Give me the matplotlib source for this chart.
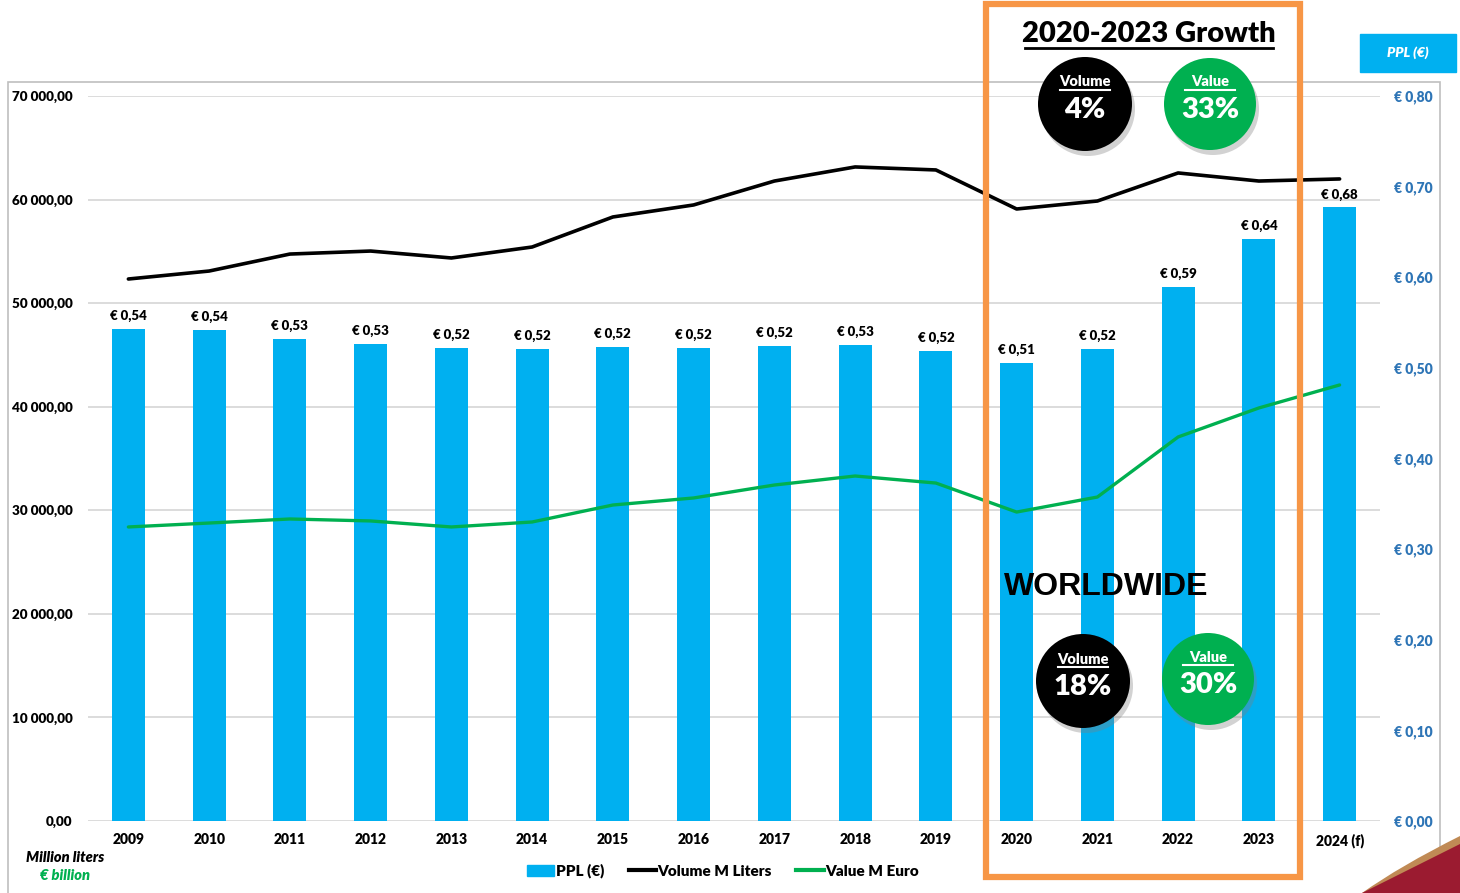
import numpy as np
import matplotlib
matplotlib.use('Agg')
import matplotlib.pyplot as plt
from matplotlib.patches import Rectangle, Circle, PathPatch
from matplotlib.path import Path
from matplotlib.lines import Line2D

years = ['2009', '2010', '2011', '2012', '2013', '2014', '2015', '2016',
         '2017', '2018', '2019', '2020', '2021', '2022', '2023', '2024 (f)']
ppl = [0.543, 0.542, 0.532, 0.526, 0.522, 0.521, 0.523, 0.522,
       0.524, 0.525, 0.519, 0.505, 0.521, 0.589, 0.642, 0.677]
volume = [52330, 53100, 54740, 55030, 54360, 55420, 58320, 59480,
          61790, 63150, 62860, 59090, 59860, 62570, 61790, 61990]
value = [28390, 28770, 29160, 28970, 28390, 28870, 30510, 31190,
         32440, 33310, 32630, 29830, 31280, 37080, 39880, 42100]
growth_2020_2023 = ['4%', '33%']
growth_world = ['18%', '30%']

W, H = 1460, 893
BW = 'heavy'
plt.rcParams['font.family'] = ['Lato', 'DejaVu Sans']
fig = plt.figure(figsize=(W / 100, H / 100), dpi=100)

def fx(x):
    return x / W

def fy(y):
    return 1 - y / H

# outer frame
fig.patches.append(Rectangle((fx(8), fy(950)), fx(1440) - fx(8), fy(82) - fy(950),
                             transform=fig.transFigure, fill=False, ec='#bfbfbf', lw=1.2))

ax = fig.add_axes([fx(88), fy(821), fx(1380) - fx(88), fy(96) - fy(821)])
ax2 = ax.twinx()
ax3 = ax.twinx()

x = np.arange(len(years))
ax.set_ylim(0, 70000)
ax.set_yticks(np.arange(0, 70001, 10000))
ax.set_yticklabels([f'{v:,.2f}'.replace(',', ' ').replace('.', ',') for v in np.arange(0, 70001, 10000)],
                   fontweight=BW, fontsize=9.7)
ax.grid(axis='y', color='#d9d9d9', lw=1.3)
ax.set_axisbelow(True)
ax.tick_params(axis='y', length=0, pad=11)
ax.set_xlim(-0.5, len(years) - 0.5)
ax.set_xticks(x)
ax.set_xticklabels(years, fontweight=BW, fontsize=10)
ax.tick_params(axis='x', length=0, pad=9)

bars = ax2.bar(x, ppl, width=0.41, color='#00b0f0', zorder=2)
ax2.set_ylim(0, 0.8)
ax2.set_yticks(np.arange(0, 0.81, 0.1))
ax2.set_yticklabels([f'€ {v:.2f}'.replace('.', ',') for v in np.arange(0, 0.81, 0.1)],
                    fontweight=BW, fontsize=10, color='#2e75b6')
ax2.tick_params(axis='y', length=0, pad=10)
for b, v in zip(bars, ppl):
    ax2.annotate(f'€ {v:.2f}'.replace('.', ','), (b.get_x() + b.get_width() / 2, v),
                 xytext=(0, 5), textcoords='offset points', ha='center', va='bottom',
                 fontsize=9.5, fontweight=BW)

ax3.plot(x, volume, color='black', lw=2.6, solid_capstyle='round')
ax3.plot(x, value, color='#00b050', lw=2.4, solid_capstyle='round')
ax3.set_ylim(0, 70000)
ax3.set_yticks([])

for a in (ax, ax2, ax3):
    for s in a.spines.values():
        s.set_visible(False)

# legend
handles = [Rectangle((0, 0), 1, 1, color='#00b0f0'),
           Line2D([], [], color='black', lw=3),
           Line2D([], [], color='#00b050', lw=3)]
fig.legend(handles, ['PPL (€)', 'Volume M Liters', 'Value M Euro'], loc='center',
           bbox_to_anchor=(fx(723), fy(871)), ncol=3, frameon=False,
           prop={'weight': BW, 'size': 11}, handlelength=1.8, handletextpad=0.1,
           columnspacing=1.6, handleheight=0.8)

fig.text(fx(65), fy(857), 'Million liters', ha='center', va='center',
         fontsize=10.5, fontweight=BW, style='italic')
fig.text(fx(65), fy(876), '€ billion', ha='center', va='center',
         fontsize=10.5, fontweight=BW, style='italic', color='#00b050')

# PPL box
fig.patches.append(Rectangle((fx(1360), fy(72)), fx(1456) - fx(1360), fy(34) - fy(72),
                             transform=fig.transFigure, color='#00b0f0'))
fig.text(fx(1408), fy(53), 'PPL (€)', ha='center', va='center', color='white',
         fontsize=10, fontweight=BW, style='italic')

# orange highlight
fig.patches.append(Rectangle((fx(986), fy(877)), fx(1300) - fx(986), fy(4) - fy(877),
                             transform=fig.transFigure, fill=False, ec='#f79646', lw=4.5))

fig.text(fx(1149), fy(34), '2020-2023 Growth', ha='center', va='center',
         fontsize=21, fontweight=BW)
fig.lines.append(Line2D([fx(1025), fx(1273)], [fy(48), fy(48)], transform=fig.transFigure,
                        color='black', lw=2))

fig.text(fx(1106), fy(587), 'WORLDWIDE', ha='center', va='center', fontsize=23,
         fontweight='bold', family=['Liberation Sans', 'DejaVu Sans'])

def bubble(cx, cy, r, color, label, pct):
    t = fig.dpi_scale_trans
    fig.patches.append(Circle(((cx + 3) / 100, (H - cy - 5) / 100), r / 100, transform=t,
                              color='#7f7f7f', alpha=0.35, lw=0))
    fig.patches.append(Circle((cx / 100, (H - cy) / 100), r / 100, transform=t,
                              color=color, lw=0))
    fig.text(fx(cx), fy(cy - 22), label, ha='center', va='center', color='white',
             fontsize=10.5, fontweight=BW)
    fig.lines.append(Line2D([fx(cx - 25), fx(cx + 25)], [fy(cy - 14), fy(cy - 14)],
                            transform=fig.transFigure, color='white', lw=1.5))
    fig.text(fx(cx), fy(cy + 6), pct, ha='center', va='center', color='white',
             fontsize=21, fontweight=BW)

bubble(1085, 104, 47, 'black', 'Volume', growth_2020_2023[0])
bubble(1210, 104, 46, '#00b050', 'Value', growth_2020_2023[1])
bubble(1083, 681, 47, 'black', 'Volume', growth_world[0])
bubble(1208, 679, 46, '#00b050', 'Value', growth_world[1])

# corner decoration
def corner(y0, color):
    verts = [(fx(1362), fy(893)), (fx(1400), fy(y0 + 30)), (fx(1460), fy(y0)),
             (fx(1460), fy(893)), (fx(1362), fy(893))]
    codes = [Path.MOVETO, Path.CURVE3, Path.CURVE3, Path.LINETO, Path.CLOSEPOLY]
    fig.patches.append(PathPatch(Path(verts, codes), transform=fig.transFigure,
                                 color=color, lw=0))

corner(836, '#c08a55')
corner(844, '#9b1b30')

fig.savefig('out.png', dpi=100)
